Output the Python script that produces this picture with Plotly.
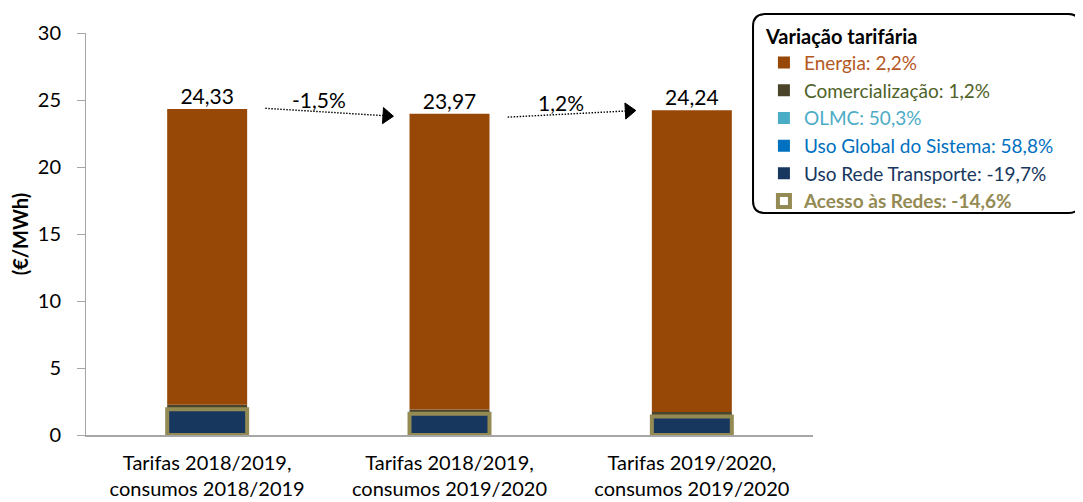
import numpy as np
import plotly.graph_objects as go

categories = ["Tarifas 2018/2019,<br>consumos 2018/2019",
              "Tarifas 2018/2019,<br>consumos 2019/2020",
              "Tarifas 2019/2020,<br>consumos 2019/2020"]
totals = [24.33, 23.97, 24.24]
uso_rede_transporte = [1.84, 1.50, 1.30]
uso_global_sistema = [0.05, 0.05, 0.05]
olmc = [0.03, 0.03, 0.03]
comercializacao = [0.33, 0.33, 0.34]
energia = [t - a - b - c - d for t, a, b, c, d in
           zip(totals, uso_rede_transporte, uso_global_sistema, olmc, comercializacao)]
acesso_redes = [a + b + c for a, b, c in zip(uso_rede_transporte, uso_global_sistema, olmc)]
legend_labels = {
    "energia": "Energia: 2,2%",
    "comercializacao": "Comercialização: 1,2%",
    "olmc": "OLMC: 50,3%",
    "ugs": "Uso Global do Sistema: 58,8%",
    "urt": "Uso Rede Transporte: -19,7%",
    "acesso": "<b>Acesso às Redes: -14,6%</b>",
}
variation_labels = ["-1,5%", "1,2%"]

FONT = "Lato"
FS = 20
x = np.arange(len(categories))
W = 0.33

series = [
    ("urt", uso_rede_transporte, "#17375E", "#17375E", 5),
    ("ugs", uso_global_sistema, "#0070C0", "#0070C0", 4),
    ("olmc", olmc, "#4BACC6", "#4BACC6", 3),
    ("comercializacao", comercializacao, "#4A452A", "#4F6228", 2),
    ("energia", energia, "#974706", "#B5581F", 1),
]

fig = go.Figure()
base = np.zeros(len(categories))
for key, vals, col, tcol, rank in series:
    vals = np.array(vals)
    fig.add_trace(go.Bar(
        x=x, y=vals, base=base, width=W, marker=dict(color=col, line=dict(width=0)),
        name=f'<span style="color:{tcol}">{legend_labels[key]}</span>',
        legendrank=rank, legendgroup=key, hoverinfo="skip"))
    base = base + vals

fig.add_trace(go.Bar(
    x=x, y=acesso_redes, base=np.zeros(len(categories)), width=W,
    marker=dict(color="rgba(0,0,0,0)", line=dict(color="#948A54", width=4)),
    name=f'<span style="color:#948A54">{legend_labels["acesso"]}</span>',
    legendrank=6, legendgroup="acesso", hoverinfo="skip"))

# total labels
fig.add_trace(go.Scatter(
    x=x, y=totals, mode="text", text=[f"{t:.2f}".replace(".", ",") for t in totals],
    textposition="top center", textfont=dict(family=FONT, size=21, color="black"),
    showlegend=False, hoverinfo="skip"))

# variation arrows
for i in range(len(totals) - 1):
    xs = [x[i] + 0.24, x[i + 1] - 0.26]
    ys = [totals[i] + 0.05 - 0.3 * i, totals[i + 1] - 0.15 + 0.1 * i]
    fig.add_trace(go.Scatter(
        x=xs, y=ys, mode="lines",
        line=dict(color="black", width=1.4, dash="1.5px,1.5px"),
        showlegend=False, hoverinfo="skip"))
    fig.add_trace(go.Scatter(
        x=xs, y=ys, mode="markers",
        marker=dict(symbol=["circle", "triangle-up"], size=[0, 14], color="black",
                    opacity=1, line=dict(width=1, color="black"), angleref="previous"),
        showlegend=False, hoverinfo="skip"))
    fig.add_annotation(x=x[i] + 0.46, y=max(ys), text=variation_labels[i],
                       showarrow=False, yanchor="bottom", yshift=-6,
                       font=dict(family=FONT, size=21, color="black"))

# rounded legend frame (paper coordinates)
x0, x1, y0, y1 = 0.9175, 1.3675, 0.552, 1.047
rx, ry = 12 / 727, 12 / 402
path = (f"M {x0+rx},{y1} L {x1-rx},{y1} Q {x1},{y1} {x1},{y1-ry} "
        f"L {x1},{y0+ry} Q {x1},{y0} {x1-rx},{y0} L {x0+rx},{y0} "
        f"Q {x0},{y0} {x0},{y0+ry} L {x0},{y1-ry} Q {x0},{y1} {x0+rx},{y1} Z")
fig.add_shape(type="path", path=path, xref="paper", yref="paper",
              line=dict(color="black", width=2), fillcolor="white", layer="below")

fig.update_layout(
    width=1075, height=494,
    margin=dict(l=78, r=270, t=25, b=67, autoexpand=False),
    plot_bgcolor="white", paper_bgcolor="white",
    barmode="overlay", separators=",.",
    font=dict(family=FONT, size=FS, color="black"),
    xaxis=dict(range=[-0.5, 2.5], tickvals=x, ticktext=categories,
               showline=True, linecolor="#A6A6A6", linewidth=2, ticks="",
               ticklabelstandoff=9,
               showgrid=False, zeroline=False, fixedrange=True,
               tickfont=dict(family=FONT, size=FS, color="black")),
    yaxis=dict(range=[0, 30], dtick=5, showline=True, linecolor="#A6A6A6", linewidth=1,
               ticks="outside", ticklen=8, tickcolor="#A6A6A6", showgrid=False,
               ticklabelstandoff=12,
               zeroline=False, tickfont=dict(family=FONT, size=FS, color="black"),
               title=dict(text="<b>(€/MWh)</b>", font=dict(family=FONT, size=FS),
                          standoff=10)),
    legend=dict(x=0.9325, y=1.038, xanchor="left", yanchor="top",
                bgcolor="rgba(0,0,0,0)", borderwidth=0,
                traceorder="grouped", tracegroupgap=0, itemwidth=30,
                font=dict(family=FONT, size=19),
                title=dict(text="<b>Variação tarifária</b>",
                           font=dict(family=FONT, size=FS, color="black"))),
)

fig.write_html("out.html")
